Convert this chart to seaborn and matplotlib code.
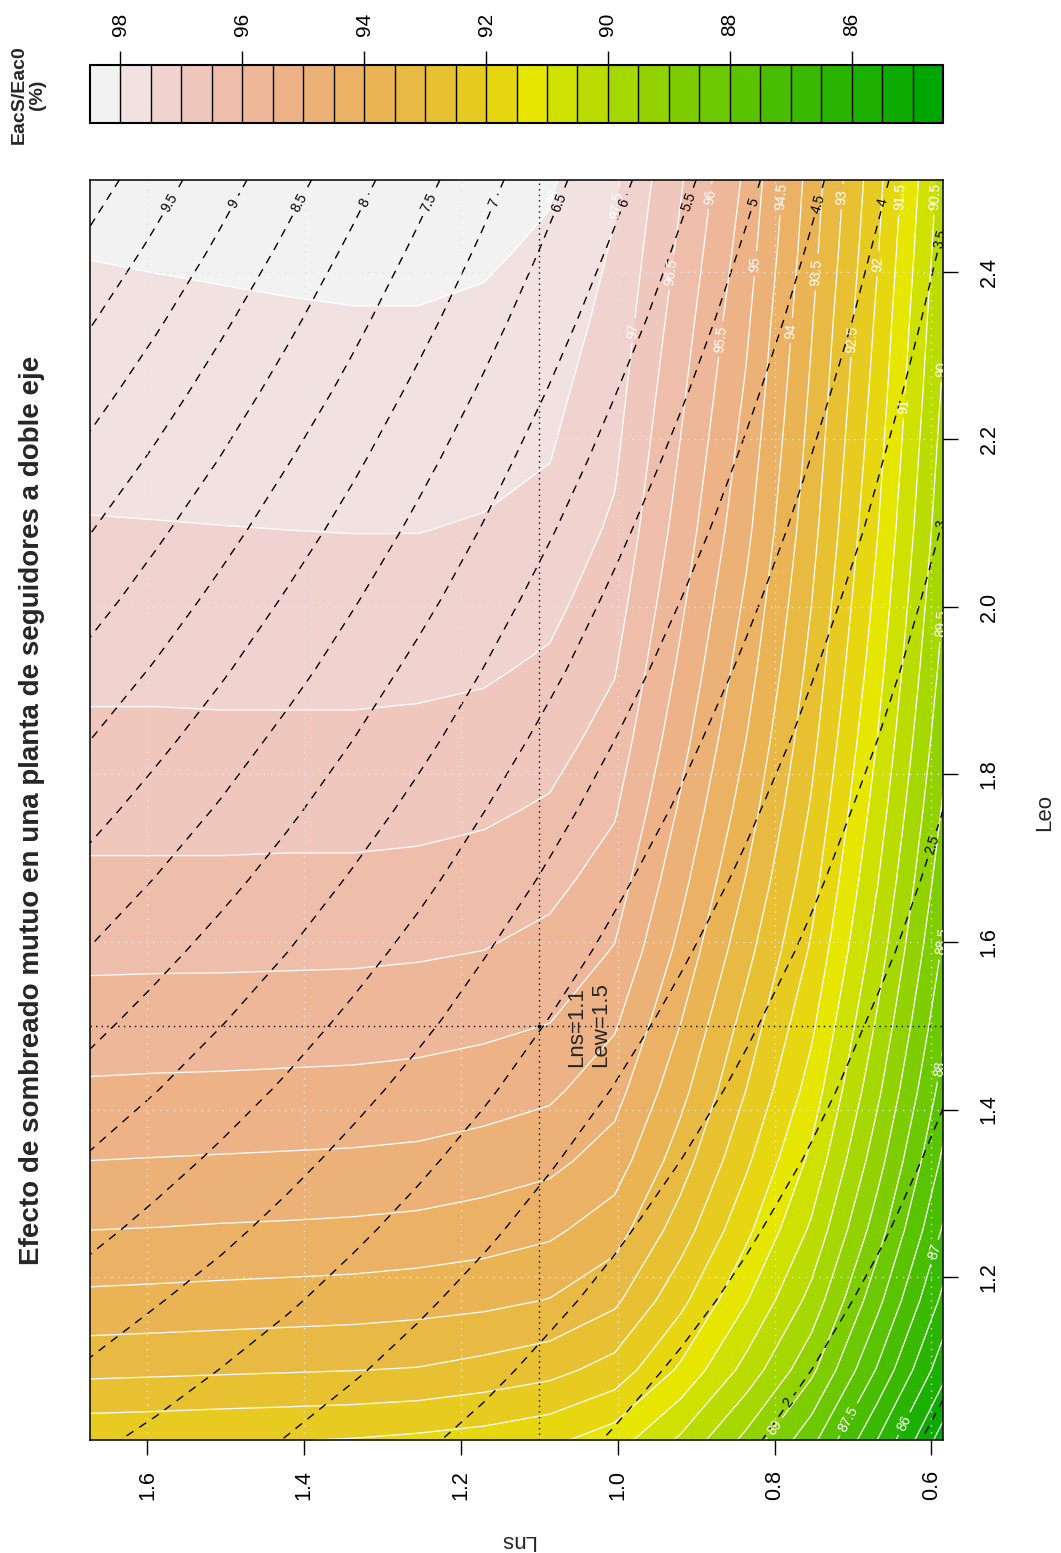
import colorsys

import matplotlib
matplotlib.use("Agg")
import matplotlib.pyplot as plt
import numpy as np
import seaborn as sns

# grid of the two spacings
lns = [0.585, 0.669, 0.753, 0.836, 0.920, 1.004, 1.087, 1.171, 1.255, 1.338, 1.422, 1.506, 1.589, 1.673]
leo = [1.005, 1.089, 1.172, 1.256, 1.339, 1.423, 1.507, 1.590, 1.674, 1.758, 1.841, 1.925, 2.008, 2.092,
       2.176, 2.259, 2.343, 2.426, 2.510]

# EacS/Eac0 (%) -- one row per Leo value (bottom to top), one column per Lns value
eac_ratio = [
    [84.74, 86.49, 88.15, 89.35, 90.41, 91.23, 91.61, 91.79, 91.89, 91.97, 92.01, 92.04, 92.08, 92.11],
    [85.68, 87.45, 89.12, 90.32, 91.41, 92.30, 92.66, 92.83, 92.97, 93.01, 93.04, 93.07, 93.10, 93.13],
    [86.37, 88.15, 89.83, 91.03, 92.14, 93.10, 93.48, 93.63, 93.70, 93.76, 93.79, 93.82, 93.85, 93.88],
    [86.94, 88.74, 90.41, 91.62, 92.75, 93.73, 94.10, 94.25, 94.35, 94.40, 94.43, 94.45, 94.48, 94.50],
    [87.40, 89.21, 90.88, 92.09, 93.24, 94.26, 94.64, 94.78, 94.88, 94.92, 94.94, 94.96, 94.98, 95.00],
    [87.80, 89.61, 91.29, 92.49, 93.66, 94.69, 95.10, 95.23, 95.32, 95.36, 95.38, 95.40, 95.41, 95.43],
    [88.13, 89.95, 91.62, 92.82, 94.02, 95.08, 95.52, 95.64, 95.71, 95.75, 95.76, 95.77, 95.78, 95.79],
    [88.43, 90.26, 91.93, 93.16, 94.36, 95.47, 95.84, 96.00, 96.06, 96.09, 96.10, 96.11, 96.11, 96.12],
    [88.70, 90.53, 92.20, 93.47, 94.66, 95.77, 96.15, 96.30, 96.37, 96.40, 96.40, 96.41, 96.41, 96.41],
    [88.94, 90.77, 92.44, 93.75, 94.93, 96.05, 96.44, 96.58, 96.64, 96.66, 96.66, 96.67, 96.67, 96.67],
    [89.15, 90.99, 92.65, 93.99, 95.18, 96.30, 96.69, 96.83, 96.88, 96.91, 96.91, 96.91, 96.90, 96.90],
    [89.34, 91.19, 92.84, 94.22, 95.40, 96.53, 96.92, 97.06, 97.11, 97.12, 97.12, 97.12, 97.11, 97.11],
    [89.51, 91.36, 93.01, 94.42, 95.60, 96.73, 97.13, 97.26, 97.31, 97.32, 97.32, 97.31, 97.30, 97.29],
    [89.67, 91.52, 93.17, 94.62, 95.79, 96.92, 97.32, 97.46, 97.51, 97.51, 97.50, 97.49, 97.48, 97.47],
    [89.80, 91.66, 93.30, 94.78, 95.95, 97.07, 97.51, 97.62, 97.66, 97.66, 97.65, 97.64, 97.62, 97.61],
    [89.93, 91.79, 93.42, 94.94, 96.10, 97.20, 97.64, 97.77, 97.81, 97.82, 97.80, 97.79, 97.77, 97.75],
    [90.05, 91.91, 93.54, 95.09, 96.25, 97.33, 97.78, 97.92, 97.97, 97.97, 97.95, 97.93, 97.90, 97.88],
    [90.18, 92.04, 93.67, 95.25, 96.40, 97.45, 97.92, 98.07, 98.12, 98.12, 98.10, 98.07, 98.05, 98.02],
    [90.30, 92.16, 93.78, 95.40, 96.55, 97.58, 98.06, 98.22, 98.27, 98.27, 98.24, 98.21, 98.18, 98.15],
]

# dashed field on the same grid
dashed_field = [
    [1.43, 1.64, 1.84, 2.05, 2.25, 2.46, 2.66, 2.87, 3.07, 3.27, 3.48, 3.69, 3.89, 4.09],
    [1.55, 1.77, 2.00, 2.22, 2.44, 2.66, 2.88, 3.11, 3.33, 3.55, 3.77, 3.99, 4.21, 4.44],
    [1.67, 1.91, 2.15, 2.39, 2.63, 2.87, 3.10, 3.34, 3.58, 3.82, 4.06, 4.30, 4.53, 4.77],
    [1.79, 2.05, 2.30, 2.56, 2.81, 3.07, 3.32, 3.58, 3.84, 4.09, 4.35, 4.61, 4.86, 5.12],
    [1.91, 2.18, 2.46, 2.73, 3.00, 3.27, 3.54, 3.82, 4.09, 4.36, 4.64, 4.91, 5.18, 5.45],
    [2.03, 2.32, 2.61, 2.90, 3.19, 3.48, 3.77, 4.06, 4.35, 4.64, 4.93, 5.22, 5.51, 5.80],
    [2.15, 2.45, 2.76, 3.07, 3.38, 3.68, 3.99, 4.30, 4.61, 4.91, 5.22, 5.53, 5.83, 6.14],
    [2.27, 2.59, 2.92, 3.24, 3.56, 3.89, 4.21, 4.53, 4.86, 5.18, 5.51, 5.83, 6.15, 6.48],
    [2.38, 2.73, 3.07, 3.41, 3.75, 4.09, 4.43, 4.77, 5.12, 5.45, 5.80, 6.14, 6.48, 6.82],
    [2.50, 2.86, 3.22, 3.58, 3.94, 4.30, 4.65, 5.01, 5.37, 5.73, 6.09, 6.45, 6.80, 7.16],
    [2.62, 3.00, 3.38, 3.75, 4.12, 4.50, 4.87, 5.25, 5.63, 6.00, 6.37, 6.75, 7.12, 7.50],
    [2.74, 3.14, 3.53, 3.92, 4.31, 4.71, 5.10, 5.49, 5.88, 6.27, 6.67, 7.06, 7.45, 7.84],
    [2.86, 3.27, 3.68, 4.09, 4.50, 4.91, 5.31, 5.73, 6.14, 6.54, 6.95, 7.36, 7.77, 8.18],
    [2.98, 3.41, 3.84, 4.26, 4.69, 5.11, 5.54, 5.97, 6.39, 6.82, 7.24, 7.67, 8.09, 8.52],
    [3.10, 3.54, 3.99, 4.43, 4.87, 5.32, 5.76, 6.20, 6.65, 7.09, 7.53, 7.98, 8.42, 8.86],
    [3.22, 3.68, 4.14, 4.60, 5.06, 5.52, 5.98, 6.44, 6.90, 7.36, 7.82, 8.28, 8.74, 9.20],
    [3.34, 3.82, 4.30, 4.77, 5.25, 5.73, 6.20, 6.68, 7.16, 7.63, 8.11, 8.59, 9.07, 9.54],
    [3.46, 3.95, 4.45, 4.94, 5.43, 5.93, 6.42, 6.92, 7.41, 7.90, 8.40, 8.90, 9.39, 9.88],
    [3.58, 4.09, 4.60, 5.11, 5.62, 6.14, 6.64, 7.16, 7.67, 8.18, 8.69, 9.20, 9.71, 10.23],
]

fill_levels = np.arange(84.5, 98.51, 0.5)
dash_levels = np.arange(1.5, 10.01, 0.5)
lns_ticks = [0.6, 0.8, 1.0, 1.2, 1.4, 1.6]
leo_ticks = [1.2, 1.4, 1.6, 1.8, 2.0, 2.2, 2.4]
bar_ticks = [86, 88, 90, 92, 94, 96, 98]
mark_lns, mark_leo = 1.1, 1.5

# where (in Leo) the contour labels sit, as in the original layout
white_label_leo = {98: 2.49, 97.5: 2.48, 97: 2.33, 96.5: 2.40, 96: 2.49, 95.5: 2.32, 95: 2.41,
                   94.5: 2.49, 94: 2.33, 93.5: 2.40, 93: 2.49, 92.5: 2.32, 92: 2.41, 91.5: 2.49,
                   91: 2.24, 90.5: 2.49, 90: 2.33, 89.5: 1.98, 89: 1.02, 88.5: 1.62, 88: 1.48,
                   87.5: 1.03, 87: 1.23, 86: 1.025}
dash_label_leo = {2: 1.05}
unlabelled = {85.0, 85.5, 86.5, 1.5}


def terrain_colors(n):
    # same ramp as R's terrain.colors()
    k = n // 2
    h = np.r_[np.linspace(4 / 12, 2 / 12, k), np.linspace(2 / 12, 0, n - k + 1)[1:]]
    s = np.r_[np.linspace(1, 1, k), np.linspace(1, 0, n - k + 1)[1:]]
    v = np.r_[np.linspace(0.65, 0.9, k), np.linspace(0.9, 0.95, n - k + 1)[1:]]
    return [colorsys.hsv_to_rgb(*c) for c in zip(h, s, v)]


def label_points(cs, ax, anchors, min_len=60):
    # one label per line: at the given Leo if set, else where the line runs closest to the Leo direction
    pts = []
    to_disp = ax.transData.transform
    for lev, path in zip(cs.levels, cs.get_paths()):
        key = round(float(lev), 2)
        if key in unlabelled:
            continue
        polys = [p for p in path.to_polygons(closed_only=False) if len(p) > 1]
        if key in anchors:
            a = anchors[key]
            hit = None
            for poly in polys:
                for p0, p1 in zip(poly[:-1], poly[1:]):
                    if (p0[1] - a) * (p1[1] - a) <= 0 and p0[1] != p1[1]:
                        t = (a - p0[1]) / (p1[1] - p0[1])
                        hit = tuple(p0 + t * (p1 - p0))
                        break
                if hit:
                    break
            if hit:
                pts.append(hit)
                continue
        for poly in polys:
            d = np.diff(to_disp(poly), axis=0)
            seg = np.hypot(d[:, 0], d[:, 1])
            if seg.sum() < min_len:
                continue
            steep = np.abs(d[:, 0]) / (np.abs(d[:, 1]) + 1e-6)
            steep[seg < 10] = np.inf
            i = int(np.argmin(steep))
            pts.append(tuple((poly[i] + poly[i + 1]) / 2))
    return pts


sns.set_style("white")
plt.rcParams['font.family'] = ['Liberation Sans', 'DejaVu Sans']
plt.rcParams['lines.dashed_pattern'] = [6.0, 5.0]

W, H = 1061, 1553
fig = plt.figure(figsize=(W / 100, H / 100), dpi=100)


def box(x0, y0, x1, y1):
    return [x0 / W, 1 - y1 / H, (x1 - x0) / W, (y1 - y0) / H]


ax = fig.add_axes(box(90, 180, 943, 1440))
cax = fig.add_axes(box(90, 65, 943, 123))

ax.set_xlim(1.6733, 0.5853)
ax.set_ylim(1.0054, 2.5098)

X, Y = np.meshgrid(lns, leo)
colors = terrain_colors(len(fill_levels) - 1)
cf = ax.contourf(X, Y, np.array(eac_ratio), levels=fill_levels, colors=colors)
cw = ax.contour(X, Y, np.array(eac_ratio), levels=fill_levels[1:-1], colors='white', linewidths=0.9)
cd = ax.contour(X, Y, np.array(dashed_field), levels=dash_levels, colors='black',
                linewidths=1.0, linestyles='dashed')

ax.clabel(cw, manual=label_points(cw, ax, white_label_leo), inline=True, fontsize=10,
          colors='white', fmt=lambda v: f"{v:g}")
ax.clabel(cd, manual=label_points(cd, ax, dash_label_leo), inline=True, fontsize=10,
          colors='black', fmt=lambda v: f"{v:g}")

# grid at the ticks
for v in lns_ticks:
    ax.axvline(v, color='#E4E4E4', ls=(0, (1, 4)), lw=1, zorder=2.5)
for v in leo_ticks:
    ax.axhline(v, color='#E4E4E4', ls=(0, (1, 4)), lw=1, zorder=2.5)

# reference point
ax.axvline(mark_lns, color='black', ls=(0, (1, 3)), lw=1, zorder=3)
ax.axhline(mark_leo, color='black', ls=(0, (1, 3)), lw=1, zorder=3)
sns.scatterplot(x=[mark_lns], y=[mark_leo], ax=ax, color='black', s=10, zorder=4, legend=False)
ax.text(1.037, 1.502, "Lns=1.1\nLew=1.5", rotation=90, ha='center', va='center',
        multialignment='left', fontsize=16, zorder=5)

ax.set_xticks(lns_ticks, labels=[f"{v:.1f}" for v in lns_ticks])
ax.set_yticks(leo_ticks, labels=[f"{v:.1f}" for v in leo_ticks])
ax.yaxis.tick_right()
ax.tick_params(axis='x', bottom=True, top=False, direction='out', length=10.8, width=1,
               labelsize=15.5, labelrotation=90, pad=11, colors='black')
ax.tick_params(axis='y', left=False, right=True, direction='out', length=10.8, width=1,
               labelsize=15.5, labelrotation=90, pad=15, colors='black')
for t in ax.get_yticklabels():
    t.set_va('center')
for sp in ax.spines.values():
    sp.set_color('black')
    sp.set_linewidth(1.1)

ax.set_xlabel("Lns", fontsize=16, rotation=180)
ax.xaxis.label.set(ha='center', va='center')
ax.xaxis.set_label_coords(0.5006, -0.0794)
ax.set_ylabel("Leo", fontsize=16)
ax.yaxis.label.set(ha='center', va='center', rotation=90, rotation_mode='default')
ax.yaxis.set_label_coords(1.1196, 0.498)

# colour key on top
cb = fig.colorbar(cf, cax=cax, orientation='horizontal', ticks=bar_ticks)
cax.invert_xaxis()
cax.xaxis.set_ticks_position('top')
cax.tick_params(axis='x', direction='out', length=10, width=1, labelsize=15,
                labelrotation=90, pad=11, colors='black')
for v in fill_levels[1:-1]:
    cax.axvline(v, color='black', lw=1.0)
cb.outline.set_edgecolor('black')
cb.outline.set_linewidth(1.5)
fig.text(28 / W, 1 - 95 / H, "EacS/Eac0\n(%)", rotation=90, ha='center', va='center',
         multialignment='center', fontsize=14, fontweight='bold', linespacing=1.1)

fig.text(32 / W, 1 - 810 / H, "Efecto de sombreado mutuo en una planta de seguidores a doble eje",
         rotation=90, ha='center', va='center', fontsize=20, fontweight='bold')

fig.savefig("out.png", dpi=100)
